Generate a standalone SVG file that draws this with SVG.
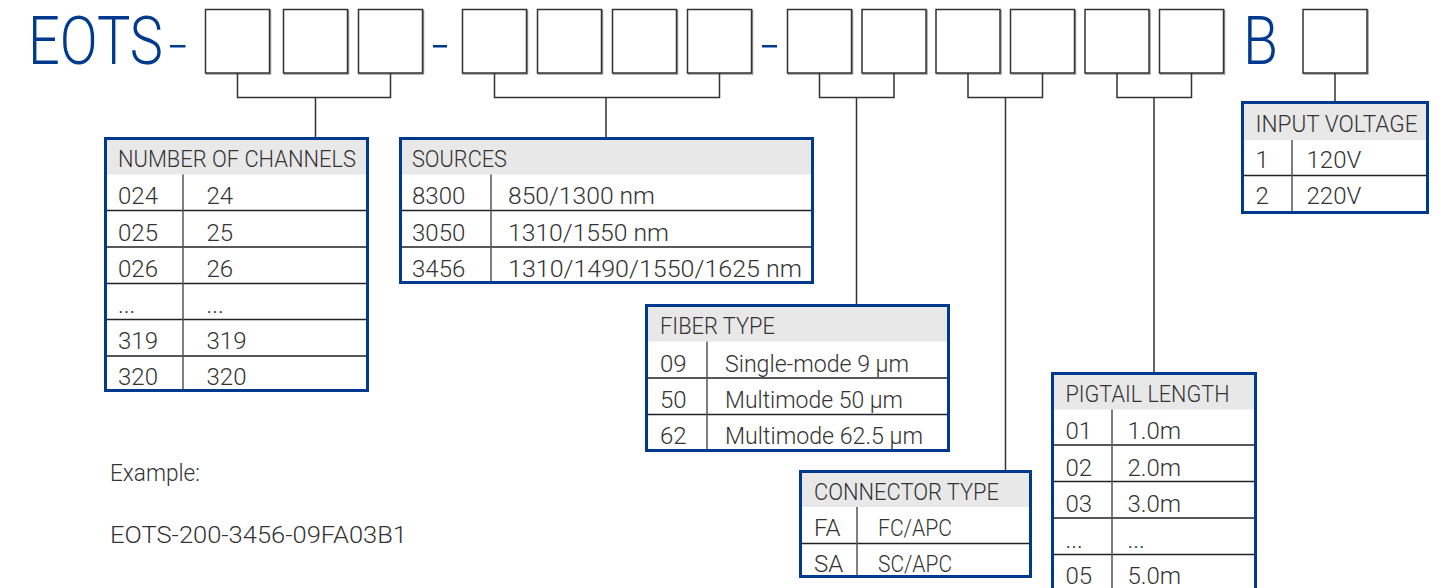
<svg xmlns="http://www.w3.org/2000/svg" width="1453" height="588" viewBox="0 0 1453 588">
<style>
.bg{fill:#fff}
.box{fill:#fff;stroke:#333;stroke-width:1.5}
.boxs{fill:none;stroke:#999;stroke-width:1.5}
.big{font-family:Roboto,"Liberation Sans",sans-serif;font-weight:300;font-size:67px;fill:#003a8f}
.dash{fill:#003a8f}
.con{fill:none;stroke:#333;stroke-width:1.5}
.frame{fill:#fff;stroke:#003a8f;stroke-width:3}
.hdr{fill:#e8e8e8}
.grid{fill:none;stroke:#222;stroke-width:1.5}
.col{fill:none;stroke:#555;stroke-width:1.5}
.t{font-family:Roboto,"Liberation Sans",sans-serif;font-weight:300;font-size:24px;fill:#333}
.ex{font-family:Roboto,"Liberation Sans",sans-serif;font-weight:300;font-size:24px;fill:#333}
</style>
<rect class="bg" x="0" y="0" width="1453" height="588"/>

<g id="code">
<text class="big" x="28" y="63.5" textLength="135" lengthAdjust="spacingAndGlyphs">EOTS</text>
<rect class="dash" x="170" y="45" width="15.5" height="2.5"/>
<rect class="dash" x="433" y="45" width="14" height="2.5"/>
<rect class="dash" x="762" y="45" width="15" height="2.5"/>
<text class="big" x="1243" y="63.5" textLength="35" lengthAdjust="spacingAndGlyphs">B</text>
</g>

<g id="boxes">
<g id="box1"><rect class="boxs" x="206.5" y="10.5" width="64" height="63.5"/><rect class="box" x="205.5" y="9.5" width="64" height="63.5"/></g>
<g id="box2"><rect class="boxs" x="284.5" y="10.5" width="64" height="63.5"/><rect class="box" x="283.5" y="9.5" width="64" height="63.5"/></g>
<g id="box3"><rect class="boxs" x="359.5" y="10.5" width="64" height="63.5"/><rect class="box" x="358.5" y="9.5" width="64" height="63.5"/></g>
<g id="box4"><rect class="boxs" x="463.5" y="10.5" width="64" height="63.5"/><rect class="box" x="462.5" y="9.5" width="64" height="63.5"/></g>
<g id="box5"><rect class="boxs" x="538.5" y="10.5" width="64" height="63.5"/><rect class="box" x="537.5" y="9.5" width="64" height="63.5"/></g>
<g id="box6"><rect class="boxs" x="613.5" y="10.5" width="64" height="63.5"/><rect class="box" x="612.5" y="9.5" width="64" height="63.5"/></g>
<g id="box7"><rect class="boxs" x="688.5" y="10.5" width="64" height="63.5"/><rect class="box" x="687.5" y="9.5" width="64" height="63.5"/></g>
<g id="box8"><rect class="boxs" x="788.5" y="10.5" width="64" height="63.5"/><rect class="box" x="787.5" y="9.5" width="64" height="63.5"/></g>
<g id="box9"><rect class="boxs" x="863" y="10.5" width="64" height="63.5"/><rect class="box" x="862" y="9.5" width="64" height="63.5"/></g>
<g id="box10"><rect class="boxs" x="937" y="10.5" width="64" height="63.5"/><rect class="box" x="936" y="9.5" width="64" height="63.5"/></g>
<g id="box11"><rect class="boxs" x="1011.5" y="10.5" width="64" height="63.5"/><rect class="box" x="1010.5" y="9.5" width="64" height="63.5"/></g>
<g id="box12"><rect class="boxs" x="1086" y="10.5" width="64" height="63.5"/><rect class="box" x="1085" y="9.5" width="64" height="63.5"/></g>
<g id="box13"><rect class="boxs" x="1160.5" y="10.5" width="64" height="63.5"/><rect class="box" x="1159.5" y="9.5" width="64" height="63.5"/></g>
<g id="box14"><rect class="boxs" x="1304" y="10.5" width="64" height="63.5"/><rect class="box" x="1303" y="9.5" width="64" height="63.5"/></g>
</g>

<g id="connectors">
<path class="con" d="M237.5,73 V97.5 H390.5 V73 M315.5,97.5 V137"/>
<path class="con" d="M494.5,73 V97.5 H719.5 V73 M606,97.5 V137"/>
<path class="con" d="M819.5,73 V97.5 H894 V73 M856.5,97.5 V304"/>
<path class="con" d="M968,73 V97.5 H1042.5 V73 M1005.5,97.5 V470"/>
<path class="con" d="M1117,73 V97.5 H1191.5 V73 M1154,97.5 V372"/>
<path class="con" d="M1335,73 V101"/>
</g>

<g id="channels">
<rect class="frame" x="105.5" y="138.5" width="262" height="252"/>
<rect class="hdr" x="107" y="140" width="259" height="34.5"/>
<path class="grid" d="M107,210.5 H366 M107,247 H366 M107,283.5 H366 M107,319.5 H366 M107,356 H366"/>
<path class="col" d="M183,174.5 V389"/>
<text class="t" x="118" y="166.5" textLength="238" lengthAdjust="spacingAndGlyphs">NUMBER OF CHANNELS</text>
<text class="t" x="118" y="204">024</text><text class="t" x="206.5" y="204">24</text>
<text class="t" x="118" y="240.5">025</text><text class="t" x="206.5" y="240.5">25</text>
<text class="t" x="118" y="276.5">026</text><text class="t" x="206.5" y="276.5">26</text>
<text class="t" x="118" y="312.5">...</text><text class="t" x="206.5" y="312.5">...</text>
<text class="t" x="118" y="348.5">319</text><text class="t" x="206.5" y="348.5">319</text>
<text class="t" x="118" y="385">320</text><text class="t" x="206.5" y="385">320</text>
</g>

<g id="sources">
<rect class="frame" x="400.5" y="138.5" width="412" height="144"/>
<rect class="hdr" x="402" y="140" width="409" height="34.5"/>
<path class="grid" d="M402,210.5 H811 M402,247 H811"/>
<path class="col" d="M491,174.5 V281"/>
<text class="t" x="412" y="166.5" textLength="95" lengthAdjust="spacingAndGlyphs">SOURCES</text>
<text class="t" x="412" y="204">8300</text><text class="t" x="508" y="204" textLength="147" lengthAdjust="spacingAndGlyphs">850/1300 nm</text>
<text class="t" x="412" y="240.5">3050</text><text class="t" x="508" y="240.5" textLength="161" lengthAdjust="spacingAndGlyphs">1310/1550 nm</text>
<text class="t" x="412" y="276.5">3456</text><text class="t" x="508" y="276.5" textLength="294" lengthAdjust="spacingAndGlyphs">1310/1490/1550/1625 nm</text>
</g>

<g id="fiber">
<rect class="frame" x="646.5" y="305.5" width="302" height="145"/>
<rect class="hdr" x="648" y="307" width="299" height="34.5"/>
<path class="grid" d="M648,378 H947 M648,414.5 H947"/>
<path class="col" d="M707,341.5 V449"/>
<text class="t" x="660" y="334" textLength="115" lengthAdjust="spacingAndGlyphs">FIBER TYPE</text>
<text class="t" x="660" y="371.5">09</text><text class="t" x="725" y="371.5" textLength="184" lengthAdjust="spacingAndGlyphs">Single-mode 9 μm</text>
<text class="t" x="660" y="407.5">50</text><text class="t" x="725" y="407.5" textLength="178" lengthAdjust="spacingAndGlyphs">Multimode 50 μm</text>
<text class="t" x="660" y="443.5">62</text><text class="t" x="725" y="443.5" textLength="198" lengthAdjust="spacingAndGlyphs">Multimode 62.5 μm</text>
</g>

<g id="connector">
<rect class="frame" x="800.5" y="471.5" width="230" height="105"/>
<rect class="hdr" x="802" y="473" width="227" height="34"/>
<path class="grid" d="M802,543.5 H1029"/>
<path class="col" d="M857,507 V575"/>
<text class="t" x="814" y="499.5" textLength="185" lengthAdjust="spacingAndGlyphs">CONNECTOR TYPE</text>
<text class="t" x="814" y="536">FA</text><text class="t" x="878" y="536" textLength="74" lengthAdjust="spacingAndGlyphs">FC/APC</text>
<text class="t" x="814" y="572">SA</text><text class="t" x="878" y="572" textLength="74" lengthAdjust="spacingAndGlyphs">SC/APC</text>
</g>

<g id="pigtail">
<rect class="frame" x="1052.5" y="373.5" width="203" height="217"/>
<rect class="hdr" x="1054" y="375" width="200" height="34.5"/>
<path class="grid" d="M1054,445 H1254 M1054,481.5 H1254 M1054,518 H1254 M1054,554.5 H1254"/>
<path class="col" d="M1112,409.5 V590"/>
<text class="t" x="1065.5" y="401.5" textLength="164" lengthAdjust="spacingAndGlyphs">PIGTAIL LENGTH</text>
<text class="t" x="1065.5" y="439">01</text><text class="t" x="1127.5" y="439">1.0m</text>
<text class="t" x="1065.5" y="475.5">02</text><text class="t" x="1127.5" y="475.5">2.0m</text>
<text class="t" x="1065.5" y="511.5">03</text><text class="t" x="1127.5" y="511.5">3.0m</text>
<text class="t" x="1065.5" y="548">...</text><text class="t" x="1127.5" y="548">...</text>
<text class="t" x="1065.5" y="584">05</text><text class="t" x="1127.5" y="584">5.0m</text>
</g>

<g id="voltage">
<rect class="frame" x="1242.5" y="102.5" width="185" height="110"/>
<rect class="hdr" x="1244" y="104" width="182" height="36"/>
<path class="grid" d="M1244,175.5 H1426"/>
<path class="col" d="M1292,140 V211"/>
<text class="t" x="1255.5" y="131.5" textLength="162" lengthAdjust="spacingAndGlyphs">INPUT VOLTAGE</text>
<text class="t" x="1255.5" y="168">1</text><text class="t" x="1306.5" y="168">120V</text>
<text class="t" x="1255.5" y="204">2</text><text class="t" x="1306.5" y="204">220V</text>
</g>

<g id="example">
<text class="ex" x="110" y="480.5" textLength="90" lengthAdjust="spacingAndGlyphs">Example:</text>
<text class="ex" x="110" y="542.5" textLength="297" lengthAdjust="spacingAndGlyphs">EOTS-200-3456-09FA03B1</text>
</g>
</svg>
